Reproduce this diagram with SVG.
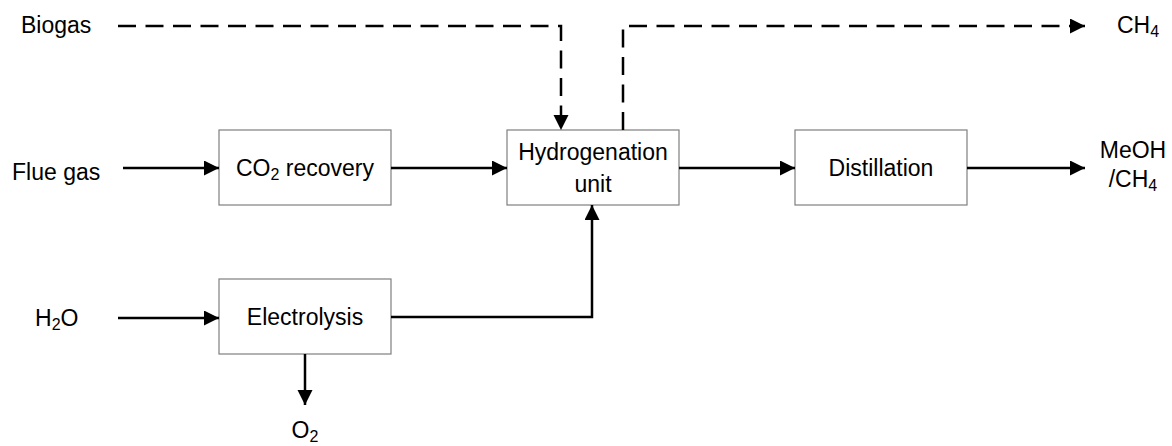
<svg xmlns="http://www.w3.org/2000/svg" width="1172" height="446" viewBox="0 0 1172 446">
  <style>
    text { font-family: "Liberation Sans", Arial, sans-serif; font-size: 23px; fill: #000; }
    .mid { text-anchor: middle; }
    .sub { font-size: 16px; }
    .box { fill: #fff; stroke: #7f7f7f; stroke-width: 1.2; }
    .flow { fill: none; stroke: #000; stroke-width: 2.5; }
    .dash { stroke-dasharray: 18 9.5; }
  </style>
  <defs>
    <marker id="arrow" markerUnits="userSpaceOnUse" markerWidth="16" markerHeight="16" refX="15" refY="7.5" orient="auto">
      <path d="M0,0 L15,7.5 L0,15 Z" fill="#000"/>
    </marker>
  </defs>

  <!-- stream labels -->
  <g id="labels">
    <text x="21" y="33">Biogas</text>
    <text x="12" y="180">Flue gas</text>
    <text x="35" y="326">H<tspan class="sub" dy="4">2</tspan><tspan dy="-4">O</tspan></text>
    <text x="1117" y="33">CH<tspan class="sub" dy="4">4</tspan></text>
    <text class="mid" x="1133" y="158">MeOH</text>
    <text class="mid" x="1133" y="187">/CH<tspan class="sub" dy="4">4</tspan></text>
    <text class="mid" x="305" y="438">O<tspan class="sub" dy="4">2</tspan></text>
  </g>

  <!-- process units -->
  <g id="co2-recovery">
    <rect class="box" x="219" y="130" width="172" height="75"/>
    <text class="mid" x="305" y="176">CO<tspan class="sub" dy="4">2</tspan><tspan dy="-4"> recovery</tspan></text>
  </g>
  <g id="hydrogenation">
    <rect class="box" x="507" y="130" width="172" height="75"/>
    <text class="mid" x="593" y="160">Hydrogenation</text>
    <text class="mid" x="593" y="192">unit</text>
  </g>
  <g id="distillation">
    <rect class="box" x="795" y="130" width="172" height="75"/>
    <text class="mid" x="881" y="176">Distillation</text>
  </g>
  <g id="electrolysis">
    <rect class="box" x="219" y="279" width="172" height="75"/>
    <text class="mid" x="305" y="325">Electrolysis</text>
  </g>

  <!-- connectors -->
  <g id="connectors">
    <path class="flow dash" d="M118,26 H561 V130" marker-end="url(#arrow)"/>
    <path class="flow dash" d="M623,130 V26 H1085" marker-end="url(#arrow)"/>
    <path class="flow" d="M123,168 H219" marker-end="url(#arrow)"/>
    <path class="flow" d="M391,168 H507" marker-end="url(#arrow)"/>
    <path class="flow" d="M679,168 H795" marker-end="url(#arrow)"/>
    <path class="flow" d="M967,168 H1085" marker-end="url(#arrow)"/>
    <path class="flow" d="M118,318 H219" marker-end="url(#arrow)"/>
    <path class="flow" d="M391,317 H592 V205" marker-end="url(#arrow)"/>
    <path class="flow" d="M305,354 V405" marker-end="url(#arrow)"/>
  </g>
</svg>
